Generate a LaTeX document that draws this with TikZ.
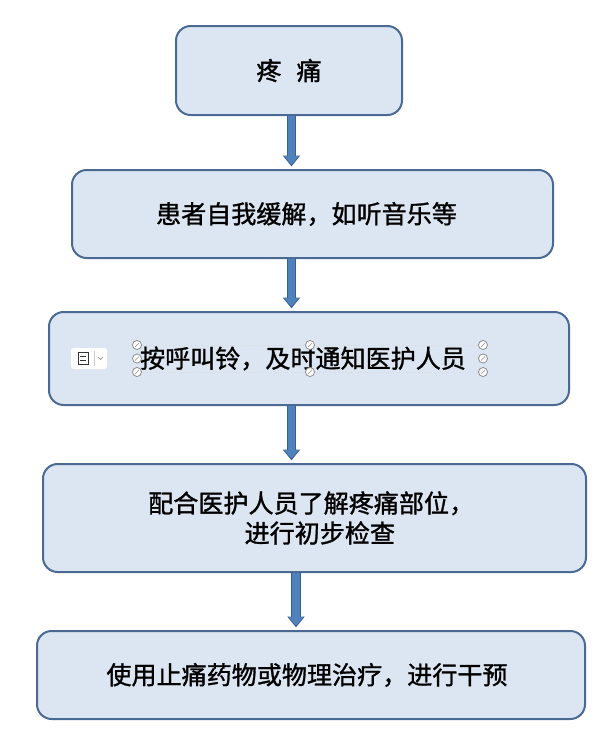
\documentclass[tikz,border=0pt]{standalone}
\usepackage{fontspec}
\setmainfont{Noto Sans CJK SC}[BoldFont=Noto Sans CJK SC, BoldFeatures={FakeBold=1.2}]
\usetikzlibrary{arrows.meta}

\definecolor{boxfill}{HTML}{DCE6F2}
\definecolor{boxline}{HTML}{4A6A94}
\definecolor{arrowfill}{HTML}{4F81BD}
\definecolor{arrowline}{HTML}{3A5F8C}
\definecolor{handlegray}{HTML}{8C8C8C}

\tikzset{
  stepbox/.style={draw=boxline, fill=boxfill, line width=1.5pt, rounded corners=11pt,
    align=center, inner sep=0pt, font=\fontsize{18.8}{22.5}\selectfont\bfseries},
  flowarrow/.style={draw=arrowline, line width=7pt, shorten >=2pt,
    -{Triangle[width=13pt,length=8pt,line width=0pt]},
    postaction={draw=arrowfill, line width=5.3pt, shorten >=3.2pt,
      -{Triangle[width=10.8pt,length=6.4pt,line width=0pt]}}},
  handle/.style={draw=handlegray, fill=white, line width=0.6pt}
}

\begin{document}
\begin{tikzpicture}[x=0.75pt,y=-0.75pt]
        \useasboundingbox (0,0) rectangle (611,743);

        % === STEPS ===
        \node[stepbox, minimum width=169.5pt, minimum height=66.75pt] (pain) at (289,70.5) {疼\hspace{0.6em}痛};
        \node[stepbox, minimum width=360.75pt, minimum height=66pt] (relief) at (312.5,214) {患者自我缓解，如听音乐等\hspace*{9pt}};
        \node[stepbox, minimum width=390pt, minimum height=69.75pt] (call) at (309,358.5) {按呼叫铃，及时通知医护人员\hspace*{9pt}};
        \node[stepbox, minimum width=407.25pt, minimum height=81pt] (check) at (314.5,518)
            {配合医护人员了解疼痛部位，\hspace*{5pt}\\\hspace*{8pt}进行初步检查};
        \node[stepbox, minimum width=411pt, minimum height=66pt] (treat) at (311,675) {使用止痛药物或物理治疗，进行干预\hspace*{6pt}};

        % === ARROWS ===
        \coordinate (mid) at (291.5,0);
        \coordinate (midr) at (296,0);
        \draw[flowarrow] (pain.south -| mid) -- (relief.north -| mid);
        \draw[flowarrow] (relief.south -| mid) -- (call.north -| mid);
        \draw[flowarrow] (call.south -| mid) -- (check.north -| mid);
        \draw[flowarrow] (check.south -| midr) -- (treat.north -| midr);

        % === EDIT HANDLES ===
        \draw[gray!30, line width=0.4pt, dotted] (137,345) -- (483,345) (137,372) -- (483,372);
        \foreach \hx/\hy in {137/345, 137/358.5, 137/372, 310/345, 310/372, 483/345, 483/358.5, 483/372} {
            \draw[handle] (\hx,\hy) circle (3.4pt);
            \draw[handlegray, line width=0.5pt] (\hx-2,\hy+2) -- (\hx+2,\hy-2);
        }

        % === LAYOUT ICON ===
        \fill[white, rounded corners=2pt] (71,348) rectangle (107,369);
        \draw[black!80, line width=0.5pt] (78,352) rectangle (88,364);
        \draw[black!80, line width=0.5pt] (80,356) -- (86,356) (80,360) -- (86,360);
        \draw[gray!40, line width=0.4pt] (94,351) -- (94,366);
        \draw[gray, line width=0.5pt] (98,357) -- (100.5,359.5) -- (103,357);
\end{tikzpicture}
\end{document}
